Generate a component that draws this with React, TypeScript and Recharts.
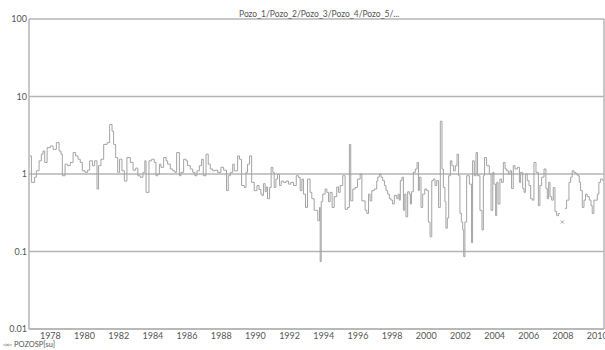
import { CartesianGrid, Line, LineChart, ReferenceLine, XAxis, YAxis } from "recharts";

const TITLE = "Pozo_1/Pozo_2/Pozo_3/Pozo_4/Pozo_5/...";
const SERIES_NAME = "POZOSP[su]";

const YEAR_TICKS = [1978, 1980, 1982, 1984, 1986, 1988, 1990, 1992, 1994, 1996, 1998, 2000, 2002, 2004, 2006, 2008, 2010];
const Y_TICKS = [0.01, 0.1, 1, 10, 100];
const X_MIN = 1976.75;
const X_MAX = 2010.4;

// [decimal year, value], held until next point (step line)
const SEG_1977_1983: [number, number | null][] = [
  [1976.79, 1.71], [1976.89, 0.78], [1977.08, 0.91], [1977.18, 1.1], [1977.34, 1.48], [1977.47, 1.8],
  [1977.57, 1.98], [1977.67, 1.41], [1977.81, 2.19], [1978.0, 2.3], [1978.16, 2.08], [1978.35, 2.54],
  [1978.51, 1.98], [1978.62, 1.8], [1978.7, 0.95], [1978.86, 1.34], [1979.01, 1.28], [1979.17, 1.41],
  [1979.33, 1.89], [1979.48, 1.71], [1979.62, 1.55], [1979.75, 1.41], [1979.87, 1.1], [1980.03, 1.05],
  [1980.18, 1.12], [1980.3, 1.48], [1980.46, 1.28], [1980.59, 1.48], [1980.73, 0.64], [1980.82, 1.28],
  [1980.96, 1.55], [1981.12, 2.41], [1981.32, 2.54], [1981.47, 4.35], [1981.61, 3.57], [1981.7, 2.41],
  [1981.82, 1.63], [1981.94, 1.05], [1982.05, 1.55], [1982.19, 1.1], [1982.33, 0.81], [1982.48, 1.63],
  [1982.68, 1.41], [1982.84, 1.12], [1982.99, 1.19], [1983.12, 0.95], [1983.26, 0.91], [1983.42, 1.05],
  [1983.53, 1.48],
];

const SEG_1983_1990: [number, number | null][] = [
  [1983.6, 0.58], [1983.77, 1.48], [1983.93, 1.55], [1984.08, 1.41], [1984.18, 0.95], [1984.28, 0.99],
  [1984.38, 1.34], [1984.47, 1.22], [1984.63, 1.63], [1984.77, 1.48], [1984.86, 1.34], [1985.02, 1.16],
  [1985.16, 1.1], [1985.29, 1.05], [1985.39, 1.89], [1985.55, 0.95], [1985.64, 1.05], [1985.8, 1.55],
  [1985.94, 1.48], [1986.03, 1.28], [1986.19, 1.16], [1986.33, 1.05], [1986.46, 0.95], [1986.58, 1.1],
  [1986.72, 1.28], [1986.85, 1.55], [1986.95, 0.95], [1987.11, 1.8], [1987.24, 1.34], [1987.36, 1.16],
  [1987.5, 1.1], [1987.63, 1.12], [1987.79, 1.05], [1987.98, 1.22], [1988.14, 1.12], [1988.31, 0.61],
  [1988.41, 0.95], [1988.53, 1.05], [1988.67, 1.34], [1988.76, 1.1], [1988.96, 1.71], [1989.07, 1.55],
  [1989.19, 0.71], [1989.35, 0.67], [1989.45, 1.05], [1989.54, 1.34], [1989.66, 1.71], [1989.78, 0.78],
  [1989.93, 0.61], [1990.09, 0.71], [1990.21, 0.63], [1990.32, 0.55],
];

const SEG_1990_1997: [number, number | null][] = [
  [1990.38, 0.53], [1990.47, 0.75], [1990.57, 0.59], [1990.63, 0.68], [1990.71, 0.48], [1990.83, 0.67],
  [1990.92, 1.22], [1991.02, 1.05], [1991.1, 0.67], [1991.2, 0.86], [1991.29, 0.99], [1991.41, 0.71],
  [1991.51, 0.81], [1991.64, 0.78], [1991.8, 0.81], [1991.94, 0.74], [1992.07, 0.78], [1992.23, 0.71],
  [1992.39, 0.95], [1992.52, 0.9], [1992.62, 0.61], [1992.72, 0.86], [1992.81, 0.55], [1992.93, 0.37],
  [1993.05, 0.86], [1993.2, 0.58], [1993.3, 0.48], [1993.44, 0.34], [1993.65, 0.25], [1993.75, 0.37],
  [1993.79, 0.074], [1993.85, 0.44], [1993.94, 0.55], [1994.08, 0.64], [1994.18, 0.58], [1994.28, 0.44],
  [1994.37, 0.58], [1994.49, 0.37], [1994.61, 0.51], [1994.76, 0.68], [1994.86, 0.58], [1994.96, 0.71],
  [1995.11, 0.95], [1995.25, 0.35], [1995.39, 0.37], [1995.5, 2.41], [1995.58, 0.45], [1995.7, 0.64],
  [1995.84, 0.67], [1995.97, 0.86], [1996.13, 1.0], [1996.23, 0.45], [1996.42, 0.34], [1996.52, 0.31],
  [1996.62, 0.55], [1996.71, 0.45], [1996.81, 0.61], [1996.95, 0.64], [1997.1, 0.81],
];

const SEG_1997_2003: [number, number | null][] = [
  [1997.16, 0.91], [1997.25, 1.0], [1997.35, 0.91], [1997.45, 0.82], [1997.55, 0.71], [1997.64, 0.61],
  [1997.74, 0.55], [1997.84, 0.48], [1997.94, 0.46], [1998.03, 0.41], [1998.13, 0.53], [1998.27, 0.48],
  [1998.35, 0.55], [1998.42, 0.46], [1998.48, 0.82], [1998.58, 0.91], [1998.66, 0.34], [1998.74, 0.55],
  [1998.81, 0.28], [1998.91, 0.59], [1999.01, 0.55], [1999.07, 0.41], [1999.13, 0.59], [1999.24, 1.05],
  [1999.36, 1.16], [1999.46, 1.41], [1999.54, 0.61], [1999.59, 0.91], [1999.69, 0.37], [1999.79, 0.55],
  [1999.91, 0.64], [2000.02, 0.61], [2000.12, 0.24], [2000.22, 0.155], [2000.32, 0.82], [2000.41, 0.86],
  [2000.51, 0.71], [2000.61, 0.82], [2000.72, 0.37], [2000.82, 4.8], [2000.92, 1.16], [2001.0, 0.67],
  [2001.09, 0.44], [2001.15, 0.2], [2001.23, 0.27], [2001.31, 0.95], [2001.41, 1.48], [2001.5, 1.28],
  [2001.6, 1.1], [2001.7, 1.28], [2001.8, 1.8], [2001.89, 0.95], [2001.97, 0.31], [2002.05, 0.24],
  [2002.13, 0.19], [2002.19, 0.086], [2002.26, 0.24], [2002.36, 0.95], [2002.52, 0.74], [2002.65, 0.13],
  [2002.71, 1.48], [2002.81, 0.95], [2002.91, 1.89], [2003.0, 0.95], [2003.14, 0.34], [2003.26, 0.19],
  [2003.34, 0.95], [2003.41, 1.63], [2003.53, 1.28], [2003.69, 1.0],
];

const SEG_2003_2010: [number, number | null][] = [
  [2003.79, 0.34], [2003.89, 1.05], [2003.96, 0.74], [2004.06, 0.29], [2004.12, 0.78], [2004.2, 0.41],
  [2004.31, 0.86], [2004.41, 0.78], [2004.51, 1.41], [2004.61, 1.16], [2004.7, 1.1], [2004.8, 1.0],
  [2004.9, 1.1], [2004.99, 0.65], [2005.09, 1.28], [2005.19, 1.16], [2005.33, 1.22], [2005.45, 0.78],
  [2005.52, 1.05], [2005.64, 0.65], [2005.72, 0.58], [2005.8, 1.0], [2005.91, 0.82], [2006.01, 0.71],
  [2006.11, 0.48], [2006.21, 0.46], [2006.3, 1.41], [2006.42, 1.05], [2006.56, 0.39], [2006.65, 0.71],
  [2006.75, 0.91], [2006.89, 1.16], [2007.0, 0.65], [2007.08, 0.48], [2007.16, 0.78], [2007.24, 0.51],
  [2007.34, 0.46], [2007.43, 0.67], [2007.53, 0.33], [2007.63, 0.29], [2007.73, 0.31], [2007.82, 0.31],
  [2007.88, null], [2007.96, 0.24], [2008.04, null],
  [2008.12, 0.36], [2008.21, 0.46], [2008.35, 0.78], [2008.45, 0.91], [2008.54, 1.1], [2008.64, 1.05],
  [2008.76, 1.0], [2008.86, 0.95], [2008.95, 0.78], [2009.03, 0.61], [2009.13, 0.37], [2009.23, 0.46],
  [2009.32, 0.55], [2009.42, 0.51], [2009.54, 0.46], [2009.64, 0.39], [2009.71, 0.31], [2009.81, 0.46],
  [2009.93, 0.46], [2010.01, 0.55], [2010.1, 0.78], [2010.2, 0.86], [2010.32, 0.82],
];

const rows = [...SEG_1977_1983, ...SEG_1983_1990, ...SEG_1990_1997, ...SEG_1997_2003, ...SEG_2003_2010].map(
  ([t, v]) => ({ t, v }),
);

const GRID = "#b4b4b4";
const LINE = "#a3a3a3";
const TEXT = "#555";
const FONT = "Lato, 'Open Sans', sans-serif";

// only lone points (no neighbours to connect to) get a marker
function renderDot(props: any) {
  const { cx, cy, index } = props;
  const cur = rows[index];
  const prev = rows[index - 1];
  const next = rows[index + 1];
  if (cur && cur.v != null && prev && prev.v == null && next && next.v == null && cx != null && cy != null) {
    return (
      <path
        key={`dot-${index}`}
        d={`M${cx - 1.5},${cy - 1.5}L${cx + 1.5},${cy + 1.5}M${cx - 1.5},${cy + 1.5}L${cx + 1.5},${cy - 1.5}`}
        stroke={LINE}
        strokeWidth={1}
      />
    );
  }
  return <g key={`dot-${index}`} />;
}

const fmtY = (v: number) => (v >= 1 ? String(v) : v === 0.1 ? "0.1" : "0.01");

export default function App() {
  return (
    <div style={{ position: "absolute", left: 0, top: 0, width: 605, height: 350, background: "#fff", fontFamily: FONT }}>
      <LineChart width={605} height={350} data={rows} margin={{ top: 19, right: 1, bottom: 7, left: 0 }}>
        <CartesianGrid vertical={false} stroke={GRID} strokeWidth={1.5} />
        <XAxis
          dataKey="t"
          type="number"
          domain={[X_MIN, X_MAX]}
          ticks={YEAR_TICKS}
          allowDataOverflow
          height={14}
          tickLine={false}
          tickSize={4}
          tickMargin={0}
          axisLine={{ stroke: GRID, strokeWidth: 1.5 }}
          tick={{ fill: TEXT, fontSize: 9, fontFamily: FONT }}
          interval={0}
        />
        <YAxis
          scale="log"
          domain={[0.01, 100]}
          ticks={Y_TICKS}
          allowDataOverflow
          width={29}
          tickLine={false}
          tickSize={2}
          tickMargin={0}
          tickFormatter={fmtY}
          axisLine={{ stroke: GRID, strokeWidth: 1.5 }}
          tick={{ fill: TEXT, fontSize: 9, fontFamily: FONT }}
          interval={0}
        />
        <ReferenceLine x={X_MAX} stroke={GRID} strokeWidth={1.5} />
        <Line
          dataKey="v"
          type="stepAfter"
          stroke={LINE}
          strokeWidth={1}
          dot={renderDot}
          activeDot={false}
          connectNulls={false}
          isAnimationActive={false}
        />
      </LineChart>
      <div style={{ position: "absolute", left: 239, top: 9, fontSize: 8.5, color: TEXT, whiteSpace: "nowrap" }}>
        {TITLE}
      </div>
      <div style={{ position: "absolute", left: 3, top: 340, fontSize: 7.5, lineHeight: "9px", color: TEXT, display: "flex", alignItems: "center", whiteSpace: "nowrap" }}>
        <svg width={9} height={6} style={{ marginRight: 2 }}>
          <line x1={0} y1={3} x2={9} y2={3} stroke={LINE} strokeWidth={1} />
          <path d="M3,1.5L6,4.5M3,4.5L6,1.5" stroke={LINE} strokeWidth={0.8} />
        </svg>
        {SERIES_NAME}
      </div>
    </div>
  );
}
